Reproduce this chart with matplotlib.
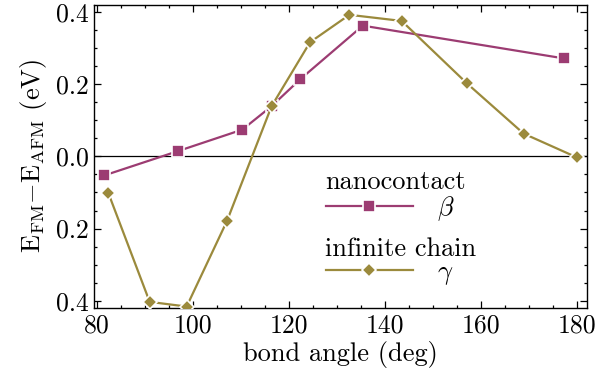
import matplotlib
matplotlib.use("Agg")
import matplotlib.pyplot as plt
from matplotlib.ticker import MultipleLocator, FixedLocator, FixedFormatter

plt.rcParams["font.family"] = ["cmr10", "DejaVu Serif"]
plt.rcParams["mathtext.fontset"] = "cm"
plt.rcParams["axes.unicode_minus"] = False

# nanocontact (beta)
beta_angle = [81.5, 97.0, 110.3, 116.4, 122.4, 135.4, 177.4]
beta_energy = [-0.053, 0.015, 0.074, 0.139, 0.214, 0.362, 0.271]

# infinite chain (gamma)
gamma_angle = [82.4, 91.0, 98.7, 107.1, 116.4, 124.4, 132.6, 143.5, 157.1, 168.9, 180.0]
gamma_energy = [-0.102, -0.403, -0.416, -0.179, 0.139, 0.316, 0.392, 0.375, 0.202, 0.063, -0.003]

y_ticks = [-0.4, -0.2, 0.0, 0.2, 0.4]
y_tick_labels = ["0.4", "0.2", "0.0", "0.2", "0.4"]
x_ticks = [80, 100, 120, 140, 160, 180]

c_beta = "#9c3c72"
c_gamma = "#9b8a3c"

fs_tick = 18.5
fs_label = 19

fig = plt.figure(figsize=(6.02, 3.83), dpi=100)
ax = fig.add_axes([94 / 602, 1 - 308 / 383, (587 - 94) / 602, (308 - 4.7) / 383])

ax.axhline(0.0, color="black", lw=0.9, zorder=1)

lb, = ax.plot(beta_angle, beta_energy, color=c_beta, lw=1.6, marker="s", ms=8,
              mec="white", mew=1.2, zorder=3)
lg, = ax.plot(gamma_angle, gamma_energy, color=c_gamma, lw=1.6, marker="D", ms=7.5,
              mec="white", mew=1.2, zorder=3)

ax.set_xlim(79.4, 182.1)
ax.set_ylim(-0.42, 0.42)
ax.xaxis.set_major_locator(FixedLocator(x_ticks))
ax.xaxis.set_minor_locator(MultipleLocator(5))
ax.yaxis.set_major_locator(FixedLocator(y_ticks))
ax.yaxis.set_major_formatter(FixedFormatter(y_tick_labels))
ax.yaxis.set_minor_locator(MultipleLocator(0.05))
ax.tick_params(which="both", direction="in", top=True, right=True,
               labelsize=fs_tick, width=0.9)
ax.tick_params(which="major", length=5, pad=4)
ax.tick_params(which="minor", length=2.5)
for s in ax.spines.values():
    s.set_linewidth(1.0)

ax.set_xlabel("bond angle (deg)", fontsize=fs_label, labelpad=2.5)
ax.set_ylabel(r"$\mathrm{E_{FM}{-}E_{AFM}}$ (eV)", fontsize=fs_label, labelpad=5)

# Legend: a heading per structure, with its line sample underneath
ax.text(0.468, 0.392, "nanocontact", transform=ax.transAxes,
        fontsize=fs_label, ha="left", va="baseline")
ax.text(0.468, 0.171, "infinite chain", transform=ax.transAxes,
        fontsize=fs_label, ha="left", va="baseline")

leg_kw = dict(loc="center left", frameon=False, fontsize=fs_label,
              handlelength=3.3, handletextpad=0.9, borderpad=0.0,
              borderaxespad=0.0)
leg1 = ax.legend([lb], [r"$\beta$"], bbox_to_anchor=(0.470, 0.326), **leg_kw)
ax.add_artist(leg1)
leg2 = ax.legend([lg], [r"$\gamma$"], bbox_to_anchor=(0.470, 0.112), **leg_kw)

fig.savefig("out.png", dpi=100)
